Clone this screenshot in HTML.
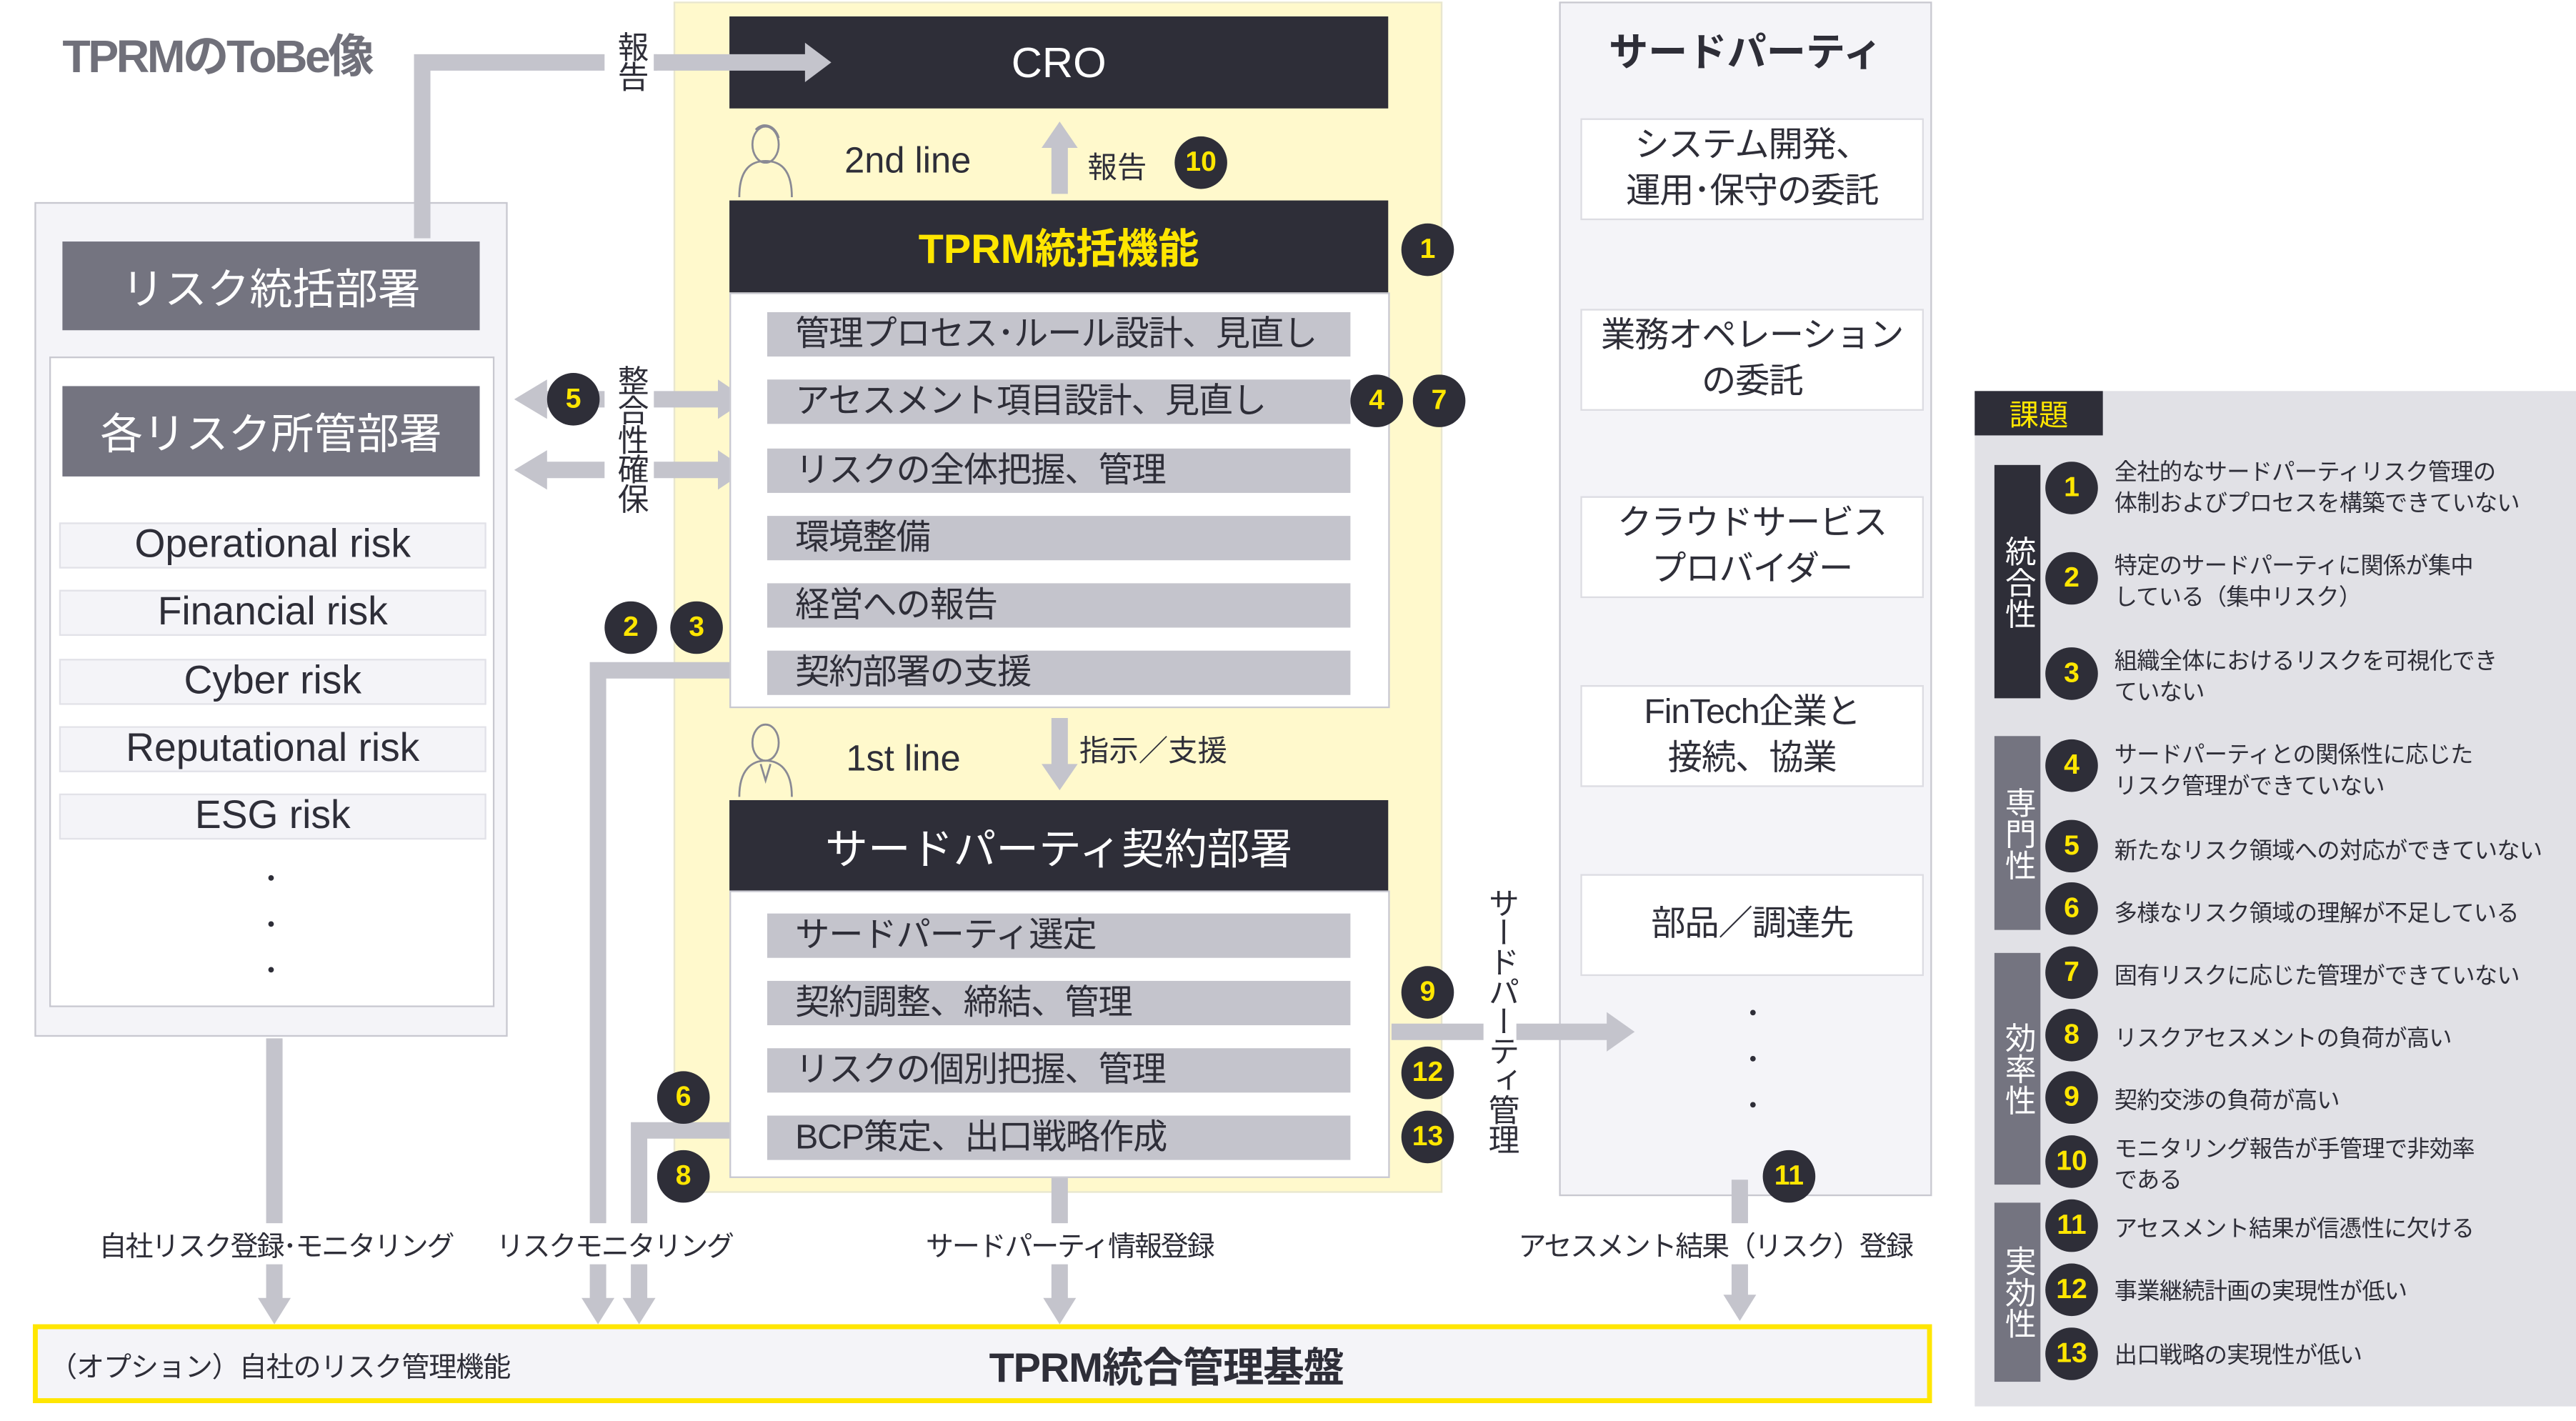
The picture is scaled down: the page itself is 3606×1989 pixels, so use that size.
<!DOCTYPE html>
<html><head><meta charset="utf-8"><style>
html,body{margin:0;padding:0;background:#fff;width:3606px;height:1988px;overflow:hidden}
#w{position:absolute;left:0;top:0;width:1568px;height:865px;transform:scale(2.29974);transform-origin:0 0;font-family:"Liberation Sans","Noto Sans CJK JP",sans-serif;color:#2e2e38}
.a{position:absolute;box-sizing:border-box}
.dk{background:#2e2e38;color:#fff}
.gr{background:#747480;color:#fff}
.c{display:flex;align-items:center;justify-content:center}
.bar{position:absolute;left:467px;width:355px;height:27px;background:#c4c4cc;font-size:21px;line-height:27px;padding-left:17px;box-sizing:border-box;white-space:nowrap;color:#2e2e38;letter-spacing:-0.5px}
.rk{position:absolute;left:36px;width:260px;height:28px;background:#f4f4f8;border:1.5px solid #e2e2e8;font-size:24px;line-height:26px;text-align:center;box-sizing:border-box}
.b{position:absolute;width:32px;height:32px;border-radius:50%;background:#2e2e38;color:#ffe600;font-weight:bold;font-size:17px;display:flex;align-items:center;justify-content:center;transform:translate(-16px,-16px)}
.tp{position:absolute;left:962px;width:209px;height:62px;background:#fff;border:1.5px solid #dcdce2;font-size:21px;line-height:28px;text-align:center;display:flex;align-items:center;justify-content:center;box-sizing:border-box;letter-spacing:-0.5px}
.v{position:absolute;writing-mode:vertical-rl;font-size:19px;line-height:20px;letter-spacing:-1px}
.lb{position:absolute;font-size:17px;white-space:nowrap;background:#fff;transform:translate(-50%,-50%);padding:0 2px;letter-spacing:-1px}
.it{position:absolute;left:1287px;font-size:14px;line-height:19px;transform:translateY(-50%);white-space:nowrap;letter-spacing:-0.3px}
.cat{position:absolute;left:1214px;width:28px;color:#fff;font-size:19px;line-height:21px;writing-mode:vertical-rl;display:flex;align-items:center;justify-content:center}
</style></head><body><div id="w">
<div class="a" style="left:410px;top:1px;width:468px;height:725px;background:#fff9cc;border:1.5px solid #e8e6d0"></div>
<div class="a" style="left:949px;top:1px;width:227px;height:727px;background:#f4f4f8;border:1.5px solid #c8c8d0"></div>
<div class="a" style="left:21px;top:123px;width:288px;height:508px;background:#f4f4f8;border:1.5px solid #c8c8d0"></div>
<div class="a" style="left:30px;top:217px;width:271px;height:396px;background:#fff;border:1.5px solid #c8c8d0"></div>
<div class="a" style="left:1202px;top:238px;width:366px;height:618px;background:#e1e1e6"></div>

<svg class="a" style="left:0;top:0" width="1568" height="865">
<g fill="none" stroke="#c4c4cc" stroke-width="10">
<polyline points="257,145 257,38 400,38"/>
<line x1="645" y1="118" x2="645" y2="88"/>
<line x1="330" y1="243" x2="438" y2="243"/>
<line x1="330" y1="286" x2="438" y2="286"/>
<polyline points="444,408 364,408 364,795"/>
<polyline points="444,688 389,688 389,795"/>
<line x1="645" y1="437" x2="645" y2="468"/>
<line x1="645" y1="716" x2="645" y2="795"/>
<line x1="847" y1="628" x2="980" y2="628"/>
<line x1="167" y1="632" x2="167" y2="795"/>
<line x1="1059" y1="718" x2="1059" y2="792"/>
</g>
<g fill="#c4c4cc">
<polygon points="634,90 645,74 656,90"/>
<polygon points="313,243 333,231 333,255"/><polygon points="455,243 437,231 437,255"/>
<polygon points="313,286 333,274 333,298"/><polygon points="455,286 437,274 437,298"/>
<polygon points="634,465 645,481 656,465"/>
<polygon points="354,790 364,806 374,790"/><polygon points="379,790 389,806 399,790"/>
<polygon points="635,790 645,806 655,790"/>
<polygon points="157,790 167,806 177,790"/>
<polygon points="1049,788 1059,804 1069,788"/>
<polygon points="978,616 995,628 978,640"/>
</g>
<g fill="none" stroke="#8a8a94" stroke-width="1.2">
<ellipse cx="466" cy="88" rx="8" ry="11"/><path d="M450,120 C450,102 458,98 466,98 C474,98 482,102 482,120"/><path d="M460,79 C464,74 472,76 474,84"/>
<ellipse cx="466" cy="452" rx="8" ry="11"/><path d="M450,485 C450,468 458,463 466,463 C474,463 482,468 482,485"/><path d="M463,465 L466,475 L469,465"/>
</g>
</svg>

<div class="a" style="left:38px;top:13px;font-size:28px;font-weight:bold;color:#70707a;letter-spacing:-1.5px">TPRMのToBe像</div>
<div class="a" style="left:368px;top:16px;width:30px;height:46px;background:#fff"></div>
<div class="v" style="left:373px;top:19px">報告</div>
<div class="a dk c" style="left:444px;top:10px;width:401px;height:56px;font-size:26px">CRO</div>
<svg class="a" style="left:0;top:0" width="1568" height="80">
<line x1="398" y1="38" x2="492" y2="38" stroke="#c4c4cc" stroke-width="10"/>
<polygon points="490,26 506,38 490,50" fill="#c4c4cc"/>
</svg>
<div class="a" style="left:514px;top:85px;font-size:22px">2nd line</div>
<div class="a" style="left:662px;top:88px;font-size:18px">報告</div>
<div class="b" style="left:731px;top:99px">10</div>
<div class="a dk c" style="left:444px;top:122px;width:401px;height:56px;font-size:25px;font-weight:bold;color:#ffe600">TPRM統括機能</div>
<div class="b" style="left:869px;top:152px">1</div>
<div class="a" style="left:444px;top:178px;width:402px;height:253px;background:#fff;border:1.5px solid #c8c8d0"></div>
<div class="bar" style="top:190px">管理プロセス･ルール設計、見直し</div>
<div class="bar" style="top:231px">アセスメント項目設計、見直し</div>
<div class="bar" style="top:273px">リスクの全体把握、管理</div>
<div class="bar" style="top:314px">環境整備</div>
<div class="bar" style="top:355px">経営への報告</div>
<div class="bar" style="top:396px">契約部署の支援</div>
<div class="b" style="left:838px;top:244px">4</div><div class="b" style="left:876px;top:244px">7</div>

<div class="a gr c" style="left:38px;top:147px;width:254px;height:54px;font-size:26px">リスク統括部署</div>
<div class="a gr c" style="left:38px;top:235px;width:254px;height:55px;font-size:26px">各リスク所管部署</div>
<div class="rk" style="top:318px">Operational risk</div>
<div class="rk" style="top:359px">Financial risk</div>
<div class="rk" style="top:401px">Cyber risk</div>
<div class="rk" style="top:442px">Reputational risk</div>
<div class="rk" style="top:483px">ESG risk</div>
<div class="a" style="left:160px;top:522px;font-size:20px;line-height:28px">･<br>･<br>･</div>

<div class="b" style="left:349px;top:243px">5</div>
<div class="a" style="left:368px;top:222px;width:30px;height:102px;background:#fff"></div>
<div class="v" style="left:373px;top:222px">整合性確保</div>
<div class="b" style="left:384px;top:382px">2</div><div class="b" style="left:424px;top:382px">3</div>

<div class="a" style="left:515px;top:449px;font-size:22px">1st line</div>
<div class="a" style="left:657px;top:443px;font-size:18px">指示／支援</div>
<div class="a dk c" style="left:444px;top:487px;width:401px;height:56px;font-size:26px">サードパーティ契約部署</div>
<div class="a" style="left:444px;top:542px;width:402px;height:175px;background:#fff;border:1.5px solid #c8c8d0"></div>
<div class="bar" style="top:556px">サードパーティ選定</div>
<div class="bar" style="top:597px">契約調整、締結、管理</div>
<div class="bar" style="top:638px">リスクの個別把握、管理</div>
<div class="bar" style="top:679px">BCP策定、出口戦略作成</div>
<div class="b" style="left:869px;top:604px">9</div><div class="b" style="left:869px;top:653px">12</div><div class="b" style="left:869px;top:692px">13</div>
<div class="b" style="left:416px;top:668px">6</div><div class="b" style="left:416px;top:716px">8</div>
<div class="v" style="left:903px;top:540px;background:#fff;height:180px">サードパーティ管理</div>

<div class="a" style="left:949px;top:12px;width:227px;text-align:center;font-size:24px;font-weight:bold">サードパーティ</div>
<div class="tp" style="top:72px">システム開発、<br>運用･保守の委託</div>
<div class="tp" style="top:188px">業務オペレーション<br>の委託</div>
<div class="tp" style="top:302px">クラウドサービス<br>プロバイダー</div>
<div class="tp" style="top:417px">FinTech企業と<br>接続、協業</div>
<div class="tp" style="top:532px">部品／調達先</div>
<div class="a" style="left:1062px;top:604px;font-size:20px;line-height:28px">･<br>･<br>･</div>
<div class="b" style="left:1089px;top:716px">11</div>

<div class="lb" style="left:168px;top:757px">自社リスク登録･モニタリング</div>
<div class="lb" style="left:374px;top:757px">リスクモニタリング</div>
<div class="lb" style="left:651px;top:757px">サードパーティ情報登録</div>
<div class="lb" style="left:1044px;top:757px">アセスメント結果（リスク）登録</div>

<div class="a" style="left:20px;top:806px;width:1156px;height:48px;background:#f4f4f8;border:3px solid #ffe600"></div>
<div class="a" style="left:30px;top:818px;font-size:17px;letter-spacing:-0.5px">（オプション）自社のリスク管理機能</div>
<div class="a" style="left:560px;top:813px;width:300px;text-align:center;font-size:25px;font-weight:bold;letter-spacing:-0.5px">TPRM統合管理基盤</div>

<div class="a dk c" style="left:1202px;top:238px;width:78px;height:27px;font-size:18px;color:#ffe600">課題</div>
<div class="cat" style="top:283px;height:142px;background:#2e2e38">統合性</div>
<div class="cat" style="top:448px;height:118px;background:#747480">専門性</div>
<div class="cat" style="top:580px;height:141px;background:#747480">効率性</div>
<div class="cat" style="top:732px;height:109px;background:#747480">実効性</div>
<div class="b" style="left:1261px;top:297px">1</div>
<div class="b" style="left:1261px;top:352px">2</div>
<div class="b" style="left:1261px;top:410px">3</div>
<div class="b" style="left:1261px;top:466px">4</div>
<div class="b" style="left:1261px;top:515px">5</div>
<div class="b" style="left:1261px;top:553px">6</div>
<div class="b" style="left:1261px;top:592px">7</div>
<div class="b" style="left:1261px;top:630px">8</div>
<div class="b" style="left:1261px;top:668px">9</div>
<div class="b" style="left:1261px;top:707px">10</div>
<div class="b" style="left:1261px;top:746px">11</div>
<div class="b" style="left:1261px;top:785px">12</div>
<div class="b" style="left:1261px;top:824px">13</div>
<div class="it" style="top:297px">全社的なサードパーティリスク管理の<br>体制およびプロセスを構築できていない</div>
<div class="it" style="top:354px">特定のサードパーティに関係が集中<br>している（集中リスク）</div>
<div class="it" style="top:412px">組織全体におけるリスクを可視化でき<br>ていない</div>
<div class="it" style="top:469px">サードパーティとの関係性に応じた<br>リスク管理ができていない</div>
<div class="it" style="top:518px">新たなリスク領域への対応ができていない</div>
<div class="it" style="top:556px">多様なリスク領域の理解が不足している</div>
<div class="it" style="top:594px">固有リスクに応じた管理ができていない</div>
<div class="it" style="top:632px">リスクアセスメントの負荷が高い</div>
<div class="it" style="top:670px">契約交渉の負荷が高い</div>
<div class="it" style="top:709px">モニタリング報告が手管理で非効率<br>である</div>
<div class="it" style="top:748px">アセスメント結果が信憑性に欠ける</div>
<div class="it" style="top:786px">事業継続計画の実現性が低い</div>
<div class="it" style="top:825px">出口戦略の実現性が低い</div>
</div></body></html>
